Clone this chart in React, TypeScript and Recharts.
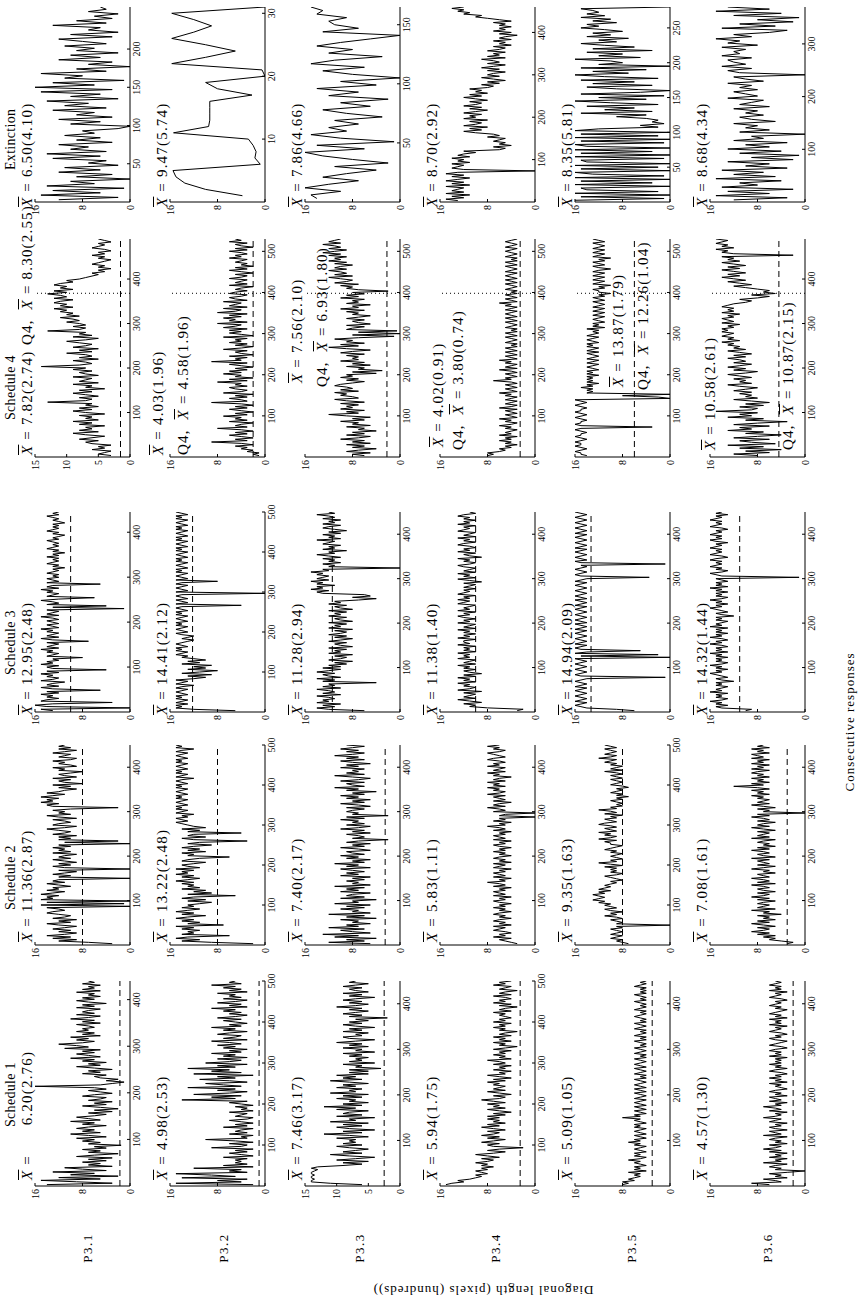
import React from "react";
import { LineChart, Line, XAxis, YAxis, ReferenceLine } from "recharts";

const SERIF = '"Liberation Serif", "Times New Roman", serif';

const participants = ["P3.1", "P3.2", "P3.3", "P3.4", "P3.5", "P3.6"];
const phases = ["Schedule 1", "Schedule 2", "Schedule 3", "Schedule 4", "Extinction"];

// diagonal length (hundreds of pixels), read evenly across each session
const p1s1 = [14,3,9,15,5,12,2,10,6,13,4,8,11,3,7, 5,8,4,7,3,9,6,2,7,5,8,4,6,1.5,7, 5,8,6,9,4,7,10,5,8,6,9,7,4,8,6,10,5,7,9,6, 4,7,3,6,2,5,8,4,6,3,7,5,4,8,6,3,5,7,4,6, 16,5,3,1,4,2,5, 6,4,8,5,7,3,6,9,5,7,4,8,6,10,5,7,9,6,8,5,11,7,9, 12,8,6,9,7,10,5,8,6,9,7,8,6, 7,9,5,8,6,10,7,5,9,6,8,7,5,9,6,8,4,7,9,6,8,5,7,6,9,5,8,6,7,5,8,6,7];
const p1s2 = [3,7,12,9,13,10,14,11,9,12, 10,13,11,9,12,14,10,12,9,13,11,10,12,14,13,11,12, 14,0,15,1,14,0,15,13, 14,12,15,13,11,14,12,13,10,12,14,11,13,12,0, 12,10,13,11,9,12,0,11,13,10,12,9,11,13,10,12,11,9,13,10,12,11,13,10,12, 0,11,2,12,10, 12,9,13,11,10,12,14,11,9,13,12,10,11,13,9,12,14,10,12,11,13,10, 2,13,14,12,15,13,14,12,15,13,11,14,12, 11,9,12,10,13,8,11,12,10,13,9,11,12,10,8,12,11,13,9,10,12,11,13,10,9,12,11,10,13,11,9,12,10,12,11];
const p1s3 = [13,15,0,14,16,13,3,15,14,12, 14,13,15,12,14,5,13,15,12,14,13,11,15,13,12,14,13,15,12,14, 4,13,14,12,15,13,14,12,13,8,14,13,12, 14,13,15,12,14,13,12,14,7,13,15,12,14,13,12,14,13,15,12,13,14,12,13, 14,12,13,15,12,14,13,12,14,1,13,4,14,12,13,15,12,6,14,13, 12,14,13,15,12,14,13,5,14,12,13,14,12, 13,12,14,13,12,13,11,13,12,14,13,12,13,12,14,12,13,11,13,12,14,13,12,13,12,13,14,12,13,12,11,13,12,14,13,12,13,12,13,11,12,13,12,13,14,12,13,12];
const p1s4 = [3,5,4,3,6,4,5,3,6, 7,5,8,6,4,7,9,5,8,6,7,4,8,6,9,5,7,6,8,4,7,9,6,8,5,7,6, 13,7,6, 8,5,7,9,6,8,4,7,6,9,5,8,7,6,9,5,7,8,6,9,7, 14,8,6, 7,9,5,8,6,7,10,6,8,5,9,7,6,8,10,7,5,9,6,8,7, 13,8,7, 9,7,8,10,8,9,11,8,10,9,11,10,12,9,11,10,12,11,9,12,10,11,13,10,12,9,11,10,12,11,9,10,8, 7,6,5,6,4,5,3,5,4,6,5,4,3,5,4,6,4,5,3,4,6,5,4,5,3,4,5];
const p1ext = [12,2,15,5,13,1,14,6,10,0, 9,3,12,5,11,2,7,4,13,5, 14,4,10,7,12,3,9,5,11,6, 8,2,0,10,5,12,3,9,6,13, 4,11,7,14,2,10,5,15,3,16, 6,13,1,11,8,15,4,9,0,7, 3,12,5,10,2,9,6,11,4,8, 12,3,10,2,7,5,13,4,9,3, 6,2,7,4,5];

const p2s1 = [2,15,4,8,3,14,5,9,15,3,6,4,12,2,7,3,5,4, 5,3,7,2,4,6,3,5,2,9,4,3,6,2,5,10,3,4,2,6,3,5,4,2,7,3,5,2,4,6,3,2,5,4,3,6,2,4,3,5,2,4, 6,3,14,5,9,4,12,6,3,8,5,13,4,7,10,3,6,11,5,8,2,12,4,9,6,13,5,8,3,10, 6,4,8,3,7,5,9,4,6,3,7,5,8,4,6,9,3,7,5,4,8,6,3,7,5,9,4,6,3,5, 7,4,8,5,3,6,4,7,5,9,3,6,4,8,5,3,7,4,6,5,8,3,6,4,7,5,9,4,6,5];
const p2s2 = [2,9,14,11,15,13,6,14,12, 13,11,14,12,15,7,13,11,14,12,15,13,10,14,12,15,13,11,14,12,13, 11,9,13,10,14,12,5,13,9,12,10,14,11,13,12, 14,12,15,13,11,14,12,15,13,14,12,15,11,13,14, 12,10,14,13,11,6,13,12,14,10,13,11,14,12,9,13,11,3,12,14,10,13,12,4,13,11,14,10,12,13, 14,15,13,14,15,13,14,12,15,14,13,15,14,15,13,14,15,14,13,15, 14,15,13,14,15,14,13,15,14,15,13,14,15,14,12,15,14,13,15,14, 15,13,14,15,14,13,15,14,15,13,14,15,14,13,15,14,12,15,14,15];
const p2s3 = [5,12,15,14,15,13, 15,14,13,15,14,15,13,14,15,14,13,15,14,12,15,14,13,15, 12,10,13,9,14,11,8,13,10,12,9,14,11,13,10,12,14,13, 15,14,13,15,14,15,13,14,15,14,13,12,14,13,12,14,15,13,14,15,14,13,15,14,15,13,14,15,14,13,15,14,15,13,14,15, 14,4,15,13,14,15,13,14,15,14,0,15,13,14,15,14,13,15,14,8,15,13,14,15,14,13,15, 14,15,13,14,15,14,13,15,14,15,13,14,15,14,13,15,14,15,13,14,15,14,13,15,14,15,13,14,15,14,13,15,14,15,13,14,15,14,13,15,14,15,13,14,15];
const p2s4 = [1,2,1,3,2,4, 3,5,2,4,9,3,5,2,4,6,3,5,2,4,8,3,5,4,2,6,3,5,4,7,3,5,2,4,6,3,5,2,4,9,3,4,6,3,5,2,7,4,3,5,6,3,5,4,8,3,6,2,5,4,7,4,6,3,5,2,4,6,3,9,4,5,3,6,2,4,5,3,7,4,2,5,3,6,4,5,3,7,2,4,6, 4,6,3,7,5,4,8,3,6,5,7,4,6,3,8,5,4,7,3,6,5,4,7,3,5,6,4,3,6,5, 3,5,4,2,6,3,5,4,3,6,4,3,5,2,4,6,3,5,2,4,3,5,4,3,6,4,5,3,4,6,3,5,2,4,5,3,6,4,5];
const p2ext = [3.8,10,13.5,15,15.5,0.8,1.7,1.5,2,2.8,15.4,9.5,9.3,9.3,9.3,9.3,2.2,8,10,0,0.5,15.7,10,5,10,15.7,12,9,12,15.7,0];

const p3s1 = [6,11,14,14,13.5,14,14,13.5,14,14,13.5,13,14,13,9, 6,9,5,10,7,4,8,11,6,9,7,5,8,10,6,9,7,8, 7,10,5,8,12,6,9,4,8,10,6,9,5,11,7,8,4,10,6,9,8,5,10,7,12,6,9,5,8,7,10,6,9,5,11,7,8,6,10,7,9,5,8,11,6,9,7,10,5,8, 5,8,3,7,6,9,4,8,6,7,5,8,6,9,4,7,6, 9,5,8,6,10,7,4,8,9,6,7,5,9,6,8,4,7,9,6,8,5,7,2,8,6,9,7,5,8,6,10,7,5,8,6,9,7,4,8,6,9,5,7,8,6,9,7,5,8,7];
const p3s2 = [5,12,6,9,4,11,7,13,5,8,10,6,12,7,9,5,8, 7,10,4,9,6,12,5,8,7,10,6,9,5,11,7,8,4,10,6,9,8,5,10,7,9,6,11,5,8,7,9,6,8,5,10,7,9,6,8,10,5,9,7,11,6,8,5,9,7,10,6,8,9,5,7,10,6,8,5,9, 7,2,8,6,7,9,5,8,6,10,7,5,9,6,8,7,10,6,9,2,8,7,9, 8,6,9,5,7,10,6,8,5,9,7,10,6,8,4,9,7,11,6,8,9,6,10,7,5,8,11,6,9,7,8,6,10,7,9,5,8,10,6,9,7,11,8,6,9,7,10,8,6,9];
const p3s3 = [6,12,14,11,13,10,14,12,13,11, 12,14,10,13,11,12,14,10,13,11,12,4,13,11,14,10,12,13,11,14,12,10,13, 10,12,9,11,8,12,10,9,11,8,12,10,11,9,12,8,10,11,9,12,10,8,11,9,12,10,9,11,8,12,10,11,9,12,8,10,11,9,12,10,11,9,12,8,10,11,9,12,10,11, 7,4,8,5,6, 13,14,12,15,13,14,11,14,13,15,12,14,13,12,14,13,15,12, 13,0,12,11,13,10,12, 11,13,10,12,14,11,12,9,13,11,12,10,13,12,11,14,10,12,11,13,10,12,9,11,13,12,10,13,11,12,10,13,11,12,14,11,12];
const p3s4 = [6,8,5,9,7,4,8,6,9,5,8,6,10,7,5,9,6,8,4,7,6,9,5,8,7,10,6,8,5,9, 12,7,9,6,10,8, 9,7,10,6,9,11,7,8,10,9,11,7,10,8,9,11,10,8,6,9,7,10,8,9, 4,8,3,7,6,9,5,8,6,10,7,8, 7,9,6,10,8,5,9,12,7,10,6,9,8,11,7, 1,8,0,7,0.5,9, 8,6,9,5,7,8,6,9,7,5,8,7,9,6,10,7,8,5,9,7,8,6,10,7,9,6,8, 2,7,9, 8,10,7,11,9,8,10,12,8,11,9,10,12,9,11,10,8,11,9,12,10,11,9,12,10,13,11,9,12,10,11,13,10,12,11,10];
const p3ext = [14,15,10,16,12,7,13,9,4,11, 2,8,13,16,6,14,1,10,15,9, 12,7,11,3,9,13,5,10,2,12, 7,14,4,10,0,8,13,6,15,11, 3,12,8,14,10,5,0,13,7,11, 12,9,14,13,15];

const p4s1 = [15,14,12,13,11,10, 9,10,8,9,10,8,9,7,9,8,10,8, 7,9,6,8,10,7,5,8,6,2,7,8,6,9,7,5,8,6, 9,7,6,8,5,7,9,6,8,5,7,6,8,6,8,5,7,4,6,8,5,7,6,8,5,7,9,6,5,7,4,6,8,5,7,6,5,7,6,8, 5,7,4,6,8,5,6,4,7,5,6,4,7,5,6,8,4,6,5,7,5,6,4,7,5,3,6,5,7,4,6,5,7,4,6,5,3,6,5,7,5,6,4,7,5,6,4,5,6,5,7,4,6,5,3,6,4,7,5,6,4,5,7,4,6,5,3,6,5,4,7,5,6,4];
const p4s2 = [3,4,5, 6,4,7,5,6,4,5,7,6,5,7,4,6,5,7,6,4,6,5,7,6,4,6,5,7,5,6,4,6,7,5,6,4,7,5,6,7,5,6,4,7,5,6,8,5,6,4,7,5,6,7,5,6,4,7,6,5,7,4,6,5,7,6,4,6,5,7,5,6,4,6,7,5,6,4,7,5,6,7,5,6,4,7,5,6,8,5,6,4,7,5,6, 0,6,5,0,7, 5,6,8,5,7,6,4,7,5,6,7,5,8,6,5,7,6,8,5,7,6,8,5,7,6,4,7,6,8,5,7,6,5,8,6,7,5,6,8,7,5,6,7,8,6,5,7,6,8,6];
const p4s3 = [3,2,8, 11,10,12,9,11,13,10,12,11,10,12,9,13,11,10,12,11,13,10,12,11,13,10,12,9,11,12,10,12,11,13,10,12,11,10,13,11,12,11,13,10,12,11,12,10,13,11,12,12,10,13,11,12,10,12,11,13,10,12,11,10,13,11,12,10,12,13,11,12,10,13,11,12,11,10,13,12,11,13,11,12,10,13,12,11,12,10,12,11,10,12,9,11,13,10,12,11,13,10,12,11,10,12,13,11,10,12,11,13,9,11,12,10,13,11,12,10,11,13,12,10,12,11,13,10,12,11,10,13,12,11,12,10,13,11,12,10,12,11,13,12,10,11];
const p4s4 = [8,7,8,6,5,6, 4,5,3,5,4,6,4,5,3,6,4,5,4,3,5,4,6,4,3,5,4,6,3,4,5,3,4,5,3,6,4,3,5,4,3,5,4,3,5,4,6,3,4,5,3,4,5,3,4,7,4,5,3,4,5,3,4,6,3,5,4,3,5,4,6,3,4,5,3,4,5,3,4,5,3,4,3,5,4,3,4,5,3,4,5,3,4,3,5,4,3,4,5,3,4,5,3,4,5,4,3,5,4,3,5,4,6,3,4,5,3,4,5,3,4,3,5,4,3,4,5,3,4,5,3,4,5,4,3,5,4,3,4,5,3,4,5,3,4,3,5,4,3,4,5,4,3,5,4,3,4,5,4,3];
const p4ext = [13,15,12,14,11,15,12,14,13,12,15,11,14,12,15,13,11,14,12,15,13, 0,12,14, 13,12,14,11,13,12,14,11,13,12,10,12, 6,5,7,4,6,5,7,6,5,8,6,7, 10,12,9,11,8,12,10,9,11,8,12,10,11,9,12,10,8,11,9,12,10,9,11,8,10,12,9,11,8,10,9,11,8, 7,9,6,8,5,7,9,6,8,7,5,8,6,9,7,5,8,6,7,9,5,8,6,7,5,8,6, 5,7,4,6,5,7,4,6,5,3,6,4,7,5,6,4,6,5,7,4,6, 8,10,9,12,11,13,12,14,12];

const p5s1 = [8,7,8,6,7,6,5, 6,5,7,4,6,5,6,4,5,6,5,7,5,4,6,5,6,4,5,6,5,4,6,5,7,5,6,4,5,6,4,5,6,5,4,6,5,6,4,5,6,5,8,5,6,4,5,6,4,5,6,4,5,6,5,4,6,5,4,5,6,4,5,6,4,5,6,5,4,5,6,4,5,4,6,5,4,5,6,4,5,6,5,4,5,6,4,5,4,6,5,4,5,6,4,5,4,5,6,4,5,4,6,5,4,5,4,6,5,4,5,6,4,5,4,5,6,5,4,5,4,6,5,4,5,4,5,6,4,5,4,5,6,4,5,4,5,4,6,5,4,5,4];
const p5s2 = [7,8,9,8,10,9,8,10,9,8,9,10,8,9, 0,9,8, 9,10,8,9,11,9,10,8,10,11,9,10,11,10, 12,11,13,12,11,12,13,11,12,10,12,11,10,11,10, 9,10,8,9,10,11,9,8,10,9,10,9,11,8,10,12,9,10,8,9,10,9,8,10,9,11,10,9,8,10, 10,11,9,12,10,9,11,10,12,9,10,11,9,10,12,11,9,10,11,9,10,8,11,9,10,12,9,10,8,9, 8,9,10,8,9,7,9,8,10,9,8,9,7,8,10,9,8,9,10,8,9,10,8,9,11,8,10,9,8,10, 9,11,10,9,12,10,9,11,10,9,10,11,9,10,11];
const p5s3 = [6,9, 14,15,16,15,14,16,15,14,15,16,15,14,15,16,15,14,16,15,14,15,16,15,14, 0.8,15, 16,15,14,15,16,15,14,15,16,15,14,15,16, 0,15,2,16,14,5,15,16, 15,14,16,15,14,15,16,15,14,15,16,15,14,16,15,14,15,16,14,15,16,15,14,15,16,15,14,15,16,15,14,16,15,14,15,16,14,15,16,15,14,15,16,15,14,15,16,15,14,16,15,14, 3.5,15, 16,15,14,15,16,15,14,15, 0.8,15, 16,14,15,16,15,14,15,16,15,14,16,15,14,15,16,15,14,15,16,15,14,16,15,14,15,16,15,14,15,16,15,14,15,16,15,14,15,16];
const p5s4 = [14,15,15,16,15,14,15,16,15,15,16,15,14,15,16,15,15,14,15,16,15,3,15,16,15,15,14,15,16,15,14,15,16,15,15,14,15,16,15,14,15,16, 0,2,8,0,14, 13,14,13,15,13,14,12,14,13,14,13,14,12,14,13,14,12,13,14,13,12,14,13,12,14,13,12,13,14,12,14,13,12,14,13,14,12,13,14,13,12,14,13,12, 13,12,14,11,13,12,13,11,12,13,12,11,13,12,11,13,12,11,13,12,11,12,13,11,12,13,11,12,10,12, 12,13,11,12,10,13,12,11,13,12,11,13,12,11,13,12,10,12,13,11,12,13,11,12,10,13,12,11,13,12,11,13,12,11,12,13,11,12,13];
const p5ext = [16,1,15,0,16,2,14,15,0,16,3,15,0,16,1,13,16,0,15,2,16,0,14,15,1,16,0,15,3,16,0,14,16,1,15,0,16,2,15,0,16,12, 2,5,1,3,2,4, 9,4,15,3,11,6,14,2,10,16,4,12,1,15,5,0,9,14,3,13,6,15,2,11,16,7,13,4,15,0,12,8, 10,16,5,12,8,14,3,13,6,11,15,9,12,7,14,10,13,8,11,15,12,14,9,13,10,15,11,14,12,13,15,0];

const p6s1 = [6,9,4,5,7,3,5,4,6,3,0,5, 4,6,5,3,7,4,5,3,6,4,5,3,6,4,7,5,4,6,3,5,4,6,5,3,7,4,5,6,3,5,6,4,5,3,6,5,4,7,5,4,5,3,6,4,5,7,4,5,3,6,4,5,6,3,5,4,6,5,3,4,5,4,6,3,5,4,6,4,5,3,4,6,5,3,5,4,6,4,5,4,5,3,6,4,5,4,6,5,3,4,6,5,4,3,5,6,4,5,3,4,6,5,4,5,3,6,4,5,4,6,3,5,4,6,5,4,3,5,4,6,5,4,5,3,4,6,5,4,5,3,6,4,5,4,6,5,4,5];
const p6s2 = [3,2,4,6,5, 7,5,8,6,9,7,6,8,5,7,9,6,8,5,7,6,8,4,7,6,9,5,8,7,6,8,7,5,8,6,9,7,6,8,5,7,8,6,7,9,5,8,6,7,9,6,7,8,5,7,6,9,7,5,8,6,7,8,6,9,5,7,8,6,7,9,6,8,5,7,6,8,7,5,9,6,8,7,6,8,5,7,9,6,8,7,5,8,6,7,9,6,8, 0,7, 6,8,5,7,9,6,8,7,6,8,7,9,6,8,7,9,6,8,12,7,9,6,8,7,9,6,8,7,9,8,6,9,7,8,6,9,7,8,6,9,7,8,9,6,8,7,9,6,8,7];
const p6s3 = [10,9, 14,15,13,15,14,16,14,13,15,14,15,13,16,14,15,14,13,15,14,15,12,14,15,13,14,15,16,14,15,13,15,14,16,14,13,15,14,15,13,15,14,16,13,15,14,15,13,14,16,14,15,13,14,16,14,15,13,15,14,15,13,16,14,15,14,13,15,14,15,12,14,15,13,14,15,16,14,15,13,15,14,16,14,13,15,14,15,13,15,14,16,13,15,14,15,13,14,15, 1,14,15, 16,14,13,15,14,16,15,14,15,14,16,15,13,14,16,15,14,15,14,16,15,14,15,13,15,16,14,15,14,16,15,14,15,13,14,16,15,14,15,14,16,15,14,15,13,15,14];
const p6s4 = [8,12,6,10,4,11,7,13,5,9,11,6,12,8,4,10,7,13,9,11,6,12,8,3,10,7,13,9,11,8, 15,9, 8,11,7,10,6,9,12,8,10,9,11,9,12,10,8,11,13,9,11,10,12,9,11,13,10,8,12,10,13,11,9,12,10,11,13,10,12,9,11,13,10,12,11,13, 12,14,11,13,12,14,13,12,14,13,14,12,13,11,14,12,13,14,12,13,11,14,12,13,12,14,13, 12,10,9,11,8,6,9,5,7,6,8,10, 12,9,11,13,10,12,14,11,13,10,12,14,11,13,10,12,14,11,13,12,14,2,12,14,13,15,12,14,13,15,14,13,15];
const p6ext = [12,3,15,6,13,2,14,8,11,4, 15,5,12,7,14,3,10,6,13,2, 9,1,11,4,13,6,10,3,12,7, 9,0,11,6,10,8,12,5,9,11, 7,10,8,12,6,11,9,7,13,8, 10,12,8,11,9,13,7,10,12,0, 11,13,9,14,10,12,13,9,14,11, 12,10,14,8,13,11,15,9,12,6, 3,14,5,11,2,8,1,12,4,15,6,13];

// responses per session (x-axis extent)
const sessionLength = [
  [440, 450, 445, 490, 255],
  [500, 500, 500, 530, 31],
  [450, 450, 450, 530, 165],
  [500, 450, 450, 530, 460],
  [450, 500, 450, 530, 280],
  [450, 450, 450, 490, 370],
];

const ticks400 = [100, 200, 300, 400];
const ticks500 = [100, 200, 300, 400, 500];
const ticksExt1 = [50, 100, 150, 200];
const ticksExt2 = [10, 20, 30];
const ticksExt3 = [50, 100, 150];
const ticksExt5 = [50, 100, 150, 200, 250];
const ticksExt6 = [100, 200, 300];

// criterion (dashed) level per panel
const criterion = [
  [1.7, 8, 10, 1.5, null],
  [1, 8, 12.2, 2, null],
  [2.5, 2.5, 11.4, 2.2, null],
  [2.5, null, 10, 2.5, null],
  [3, 8, 13.3, 6, null],
  [2, 3, 11, 4.4, null],
];

// start of the last quarter in Schedule 4
const q4Start = [368, 398, 398, 398, 398, 368];

const meanSd = [
  ["     6.20(2.76)", "11.36(2.87)", "12.95(2.48)", "7.82(2.74)", "6.50(4.10)"],
  ["4.98(2.53)", "13.22(2.48)", "14.41(2.12)", "4.03(1.96)", "9.47(5.74)"],
  ["7.46(3.17)", "7.40(2.17)", "11.28(2.94)", "7.56(2.10)", "7.86(4.66)"],
  ["5.94(1.75)", "5.83(1.11)", "11.38(1.40)", "4.02(0.91)", "8.70(2.92)"],
  ["5.09(1.05)", "9.35(1.63)", "14.94(2.09)", "13.87(1.79)", "8.35(5.81)"],
  ["4.57(1.30)", "7.08(1.61)", "14.32(1.44)", "10.58(2.61)", "8.68(4.34)"],
];
const q4MeanSd = ["8.30(2.55)", "4.58(1.96)", "6.93(1.80)", "3.80(0.74)", "12.26(1.04)", "10.87(2.15)"];

const series = [
  [p1s1, p1s2, p1s3, p1s4, p1ext],
  [p2s1, p2s2, p2s3, p2s4, p2ext],
  [p3s1, p3s2, p3s3, p3s4, p3ext],
  [p4s1, p4s2, p4s3, p4s4, p4ext],
  [p5s1, p5s2, p5s3, p5s4, p5ext],
  [p6s1, p6s2, p6s3, p6s4, p6ext],
];
const xTicks = [
  [ticks400, ticks400, ticks400, ticks400, ticksExt1],
  [ticks500, ticks500, ticks500, ticks500, ticksExt2],
  [ticks400, ticks400, ticks400, ticks500, ticksExt3],
  [ticks500, ticks400, ticks400, ticks500, ticks400],
  [ticks400, ticks500, ticks400, ticks500, ticksExt5],
  [ticks400, ticks400, ticks400, ticks400, ticksExt6],
];

// layout (unrotated figure, 1300 x 866)
const rowTop = [35, 170, 305, 440, 575, 710];
const colLeft = [114, 355, 588, 843, 1098];
const colWidth = [205, 200, 200, 218, 195];
const PLOT_H = 95;
const Y_AXIS_W = 24;
const statLeft = [120, 358, 585, 845, 1093];
const titleLeft = [173, 390, 625, 880, 1130];
const s4StatPos = [[845, 20], [845, 151], [917, 290], [853, 431], [913, 611], [850, 703]];
const q4Pos = [[955, 20], [845, 176], [913, 315], [850, 451], [910, 636], [850, 781]];

function Panel({ row, col }: { row: number; col: number }) {
  const values = series[row][col];
  const n = sessionLength[row][col];
  const data = values.map((v, i) => ({ x: ((i + 1) * n) / values.length, v }));
  const top15 = (row === 0 && col === 3) || (row === 2 && col === 0);
  const yMax = top15 ? 15 : 16;
  const yTicks = top15 ? [0, 5, 10, 15] : [0, 8, 16];
  const dash = criterion[row][col];
  const width = colWidth[col];
  const tickStyle = { fontSize: 10, fill: "#000", fontFamily: SERIF };
  return (
    <div style={{ position: "absolute", left: colLeft[col] - Y_AXIS_W, top: rowTop[row] - 6 }}>
      <LineChart
        width={Y_AXIS_W + width + 14}
        height={6 + PLOT_H + 20}
        data={data}
        margin={{ top: 6, right: 14, bottom: 0, left: 0 }}
      >
        <XAxis
          type="number"
          dataKey="x"
          domain={[0, n]}
          ticks={xTicks[row][col]}
          interval={0}
          allowDataOverflow
          height={20}
          stroke="#000"
          tickSize={-3}
          tickMargin={6}
          tick={tickStyle}
        />
        <YAxis
          type="number"
          domain={[0, yMax]}
          ticks={yTicks}
          interval={0}
          allowDataOverflow
          width={Y_AXIS_W}
          stroke="#000"
          tickSize={-3}
          tickMargin={6}
          tick={tickStyle}
        />
        {dash != null && <ReferenceLine y={dash} stroke="#000" strokeWidth={1} strokeDasharray="6 4" />}
        {col === 3 && <ReferenceLine x={q4Start[row]} stroke="#000" strokeWidth={1} strokeDasharray="1 3" />}
        <Line
          type="linear"
          dataKey="v"
          stroke="#000"
          strokeWidth={1}
          dot={false}
          isAnimationActive={false}
        />
      </LineChart>
    </div>
  );
}

function Xbar() {
  return <span style={{ fontStyle: "italic", textDecoration: "overline" }}>X</span>;
}

const statStyle: React.CSSProperties = {
  position: "absolute",
  fontSize: 15,
  lineHeight: "15px",
  letterSpacing: "1.2px",
  whiteSpace: "pre",
  fontFamily: SERIF,
};

function Stats({ row, col }: { row: number; col: number }) {
  const isS4 = col === 3;
  const left = isS4 ? s4StatPos[row][0] : statLeft[col];
  const top = isS4 ? s4StatPos[row][1] : row === 0 ? 20 : rowTop[row] - 15;
  return (
    <>
      <div style={{ ...statStyle, left, top }}>
        <Xbar />
        {` = ${meanSd[row][col]}`}
      </div>
      {isS4 && (
        <div style={{ ...statStyle, left: q4Pos[row][0], top: q4Pos[row][1] }}>
          {"Q4,  "}
          <Xbar />
          {` = ${q4MeanSd[row]}`}
        </div>
      )}
    </>
  );
}

export default function App() {
  return (
    <div style={{ position: "absolute", left: 0, top: 0, width: 866, height: 1300, overflow: "hidden", background: "#fff" }}>
      <div
        style={{
          position: "absolute",
          left: 0,
          top: 0,
          width: 1300,
          height: 866,
          transformOrigin: "0 0",
          transform: "translate(0px, 1300px) rotate(-90deg)",
          fontFamily: SERIF,
          color: "#000",
        }}
      >
        {participants.map((p, r) =>
          phases.map((_, c) => <Panel key={`${p}-${c}`} row={r} col={c} />)
        )}
        {participants.map((p, r) =>
          phases.map((_, c) => <Stats key={`s-${p}-${c}`} row={r} col={c} />)
        )}
        {phases.map((ph, c) => (
          <div key={ph} style={{ position: "absolute", left: titleLeft[c], top: 4, fontSize: 14, lineHeight: "14px", whiteSpace: "pre", letterSpacing: "0.3px" }}>
            {ph}
          </div>
        ))}
        {participants.map((p, r) => (
          <div
            key={p}
            style={{ position: "absolute", left: 52, top: 88 + 136 * r, transform: "translate(-50%, -50%)", fontSize: 13, letterSpacing: "1.5px", whiteSpace: "pre" }}
          >
            {p}
          </div>
        ))}
        <div
          style={{ position: "absolute", left: 10, top: 483, transform: "translate(-50%, -50%) rotate(-90deg)", fontSize: 13, letterSpacing: "1px", whiteSpace: "pre" }}
        >
          Diagonal length (pixels (hundreds))
        </div>
        <div
          style={{ position: "absolute", left: 578, top: 850, transform: "translate(-50%, -50%)", fontSize: 13, letterSpacing: "1px", whiteSpace: "pre" }}
        >
          Consecutive responses
        </div>
      </div>
    </div>
  );
}
